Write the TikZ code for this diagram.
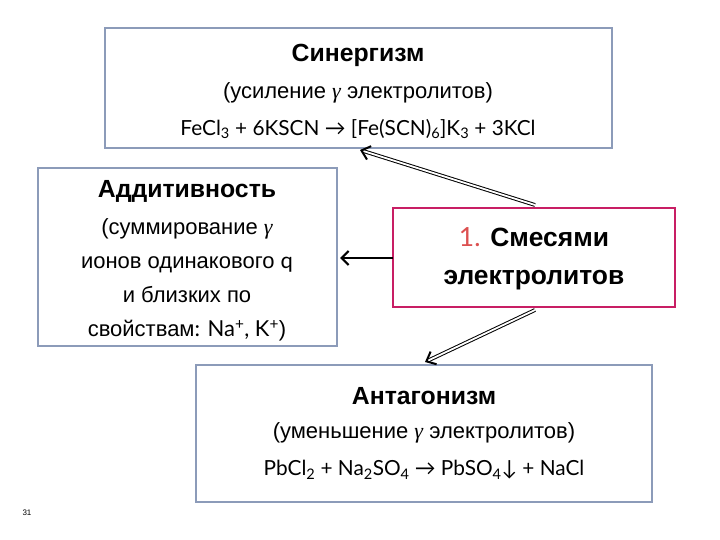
\documentclass[tikz,border=0pt]{standalone}
\usepackage{fontspec}
\setmainfont{Liberation Sans}
\newfontfamily\formfont{Lato}
\newfontfamily\gfont{Liberation Serif}
\usetikzlibrary{arrows.meta}
\definecolor{boxblue}{RGB}{140,155,185}
\definecolor{boxred}{RGB}{200,30,100}
\definecolor{numred}{RGB}{220,80,80}
\newcommand{\gam}{{\gfont\itshape γ}}
\newcommand{\sbs}[1]{\textsubscript{#1}}
\newcommand{\sps}[1]{\textsuperscript{#1}}
\tikzset{
  bx/.style={draw=boxblue,line width=2pt,fill=white},
  dbl/.style={double,double distance=1.8pt,line width=1pt,-{Straight Barb[length=8pt,width=14pt,line width=2pt]}},
  sgl/.style={line width=2.2pt,-{Straight Barb[length=7pt,width=14pt]}},
  hd/.style={font=\fontsize{31}{34}\selectfont\bfseries},
  tx/.style={font=\fontsize{27.5}{30}\selectfont},
  fm/.style={font=\fontsize{26}{30}\selectfont\formfont},
}
\begin{document}
\begin{tikzpicture}[x=1pt,y=-1pt]
\useasboundingbox (0,0) rectangle (720,540);
\draw[bx] (105,28) rectangle (612,148);
\node[hd,scale=0.8] (t1) at (358,55) {Синергизм};
\node[tx,scale=0.8] (t2) at (358,93) {(усиление \gam\ электролитов)};
\node[fm,scale=0.8] (t3) at (358,129) {FeCl\sbs{3} + 6KSCN → [Fe(SCN)\sbs{6}]K\sbs{3} + 3KCl};
\coordinate (top) at (360,150);
\draw[bx] (38,168) rectangle (337,346);
\node[hd,scale=0.8] (l1) at (187,191) {Аддитивность};
\node[align=center,font=\fontsize{27.5}{42.5}\selectfont,scale=0.8] (l2) at (187,280) {(суммирование \gam\\ ионов одинакового {\formfont q}\\ и близких по\\ свойствам{\formfont : Na\sps{+}, K\sps{+}})};
\coordinate (left) at (340,258);
\draw[draw=boxred,line width=2pt,fill=white] (393,208) rectangle (675,307);
\node[align=center,font=\fontsize{33}{47}\selectfont\bfseries,scale=0.8] (c) at (534,259) {{\color{numred}\formfont\mdseries 1.} Смесями\\ электролитов};
\draw[bx] (196,365) rectangle (652,502);
\node[hd,scale=0.8] (b1) at (424,396) {Антагонизм};
\node[tx,scale=0.8] (b2) at (424,433) {(уменьшение \gam\ электролитов)};
\node[fm,scale=0.8] (b3) at (424,470) {PbCl\sbs{2} + Na\sbs{2}SO\sbs{4} → PbSO\sbs{4}↓ + NaCl};
\coordinate (bot) at (425,362);
\draw[dbl] (535,205) -- (top);
\draw[sgl] (393,258) -- (left);
\draw[dbl] (535,310) -- (bot);
\node[font=\fontsize{8}{9}\selectfont] (n) at (27,513) {31};
\end{tikzpicture}
\end{document}
